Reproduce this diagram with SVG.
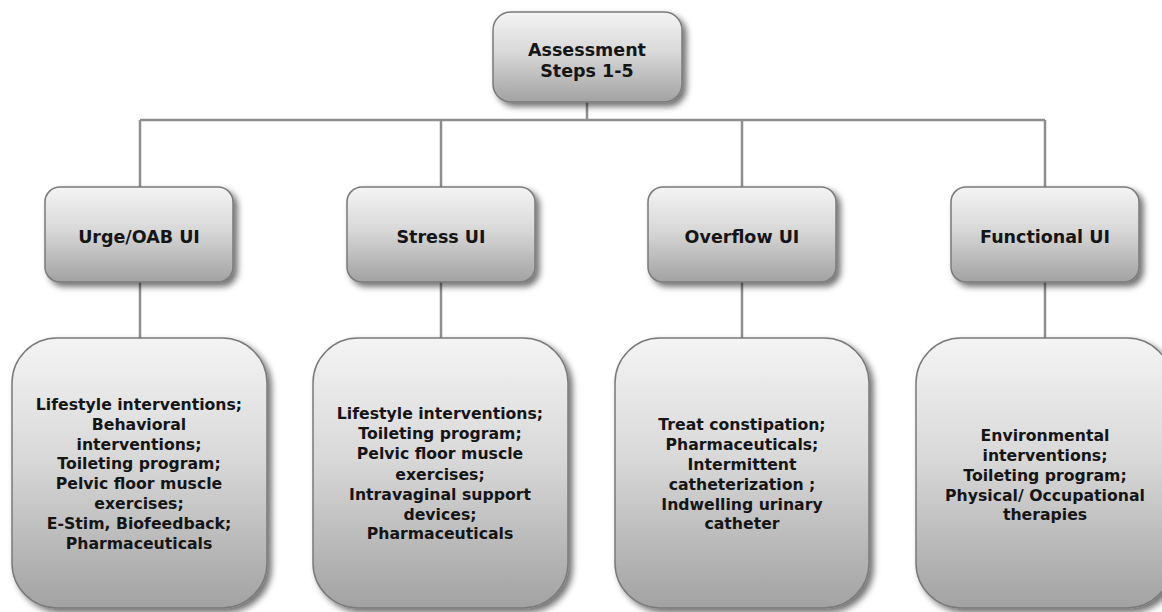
<svg xmlns="http://www.w3.org/2000/svg" width="1162" height="612" viewBox="0 0 1162 612">
<defs>
<linearGradient id="g" x1="0" y1="0" x2="0" y2="1">
<stop offset="0" stop-color="#f4f4f4"/>
<stop offset="0.45" stop-color="#d8d8d8"/>
<stop offset="1" stop-color="#a2a2a2"/>
</linearGradient>
<filter id="sh" x="-10%" y="-10%" width="125%" height="125%">
<feDropShadow dx="4" dy="4" stdDeviation="3" flood-color="#000" flood-opacity="0.55"/>
</filter>
<style>
.box{fill:url(#g);stroke:#7a7a7a;stroke-width:1.5;filter:url(#sh)}
.t{font-family:"DejaVu Sans","Verdana",sans-serif;font-weight:bold;fill:#151515;text-anchor:middle}
.h{font-size:17.5px}
.b{font-size:15.7px}
.c{stroke:#8e8e8e;stroke-width:2.5;fill:none}
</style>
</defs>
<rect width="1162" height="612" fill="#ffffff"/>
<g id="connectors">
<path class="c" d="M587 102V120M140 120H1045M140 120V187M441 120V187M742 120V187M1045 120V187"/>
<path class="c" d="M140 282V338M441 282V338M742 282V338M1045 282V338"/>
</g>
<g id="assessment">
<rect class="box" x="493" y="12" width="189" height="90" rx="18"/>
<text class="t h" x="587" y="56">Assessment</text>
<text class="t h" x="587" y="77">Steps 1-5</text>
</g>
<g id="urge">
<rect class="box" x="45" y="187" width="188" height="95" rx="15"/>
<text class="t h" x="139" y="243">Urge/OAB UI</text>
</g>
<g id="stress">
<rect class="box" x="347" y="187" width="188" height="95" rx="15"/>
<text class="t h" x="441" y="243">Stress UI</text>
</g>
<g id="overflow">
<rect class="box" x="648" y="187" width="188" height="95" rx="15"/>
<text class="t h" x="742" y="243">Overflow UI</text>
</g>
<g id="functional">
<rect class="box" x="951" y="187" width="188" height="95" rx="15"/>
<text class="t h" x="1045" y="243">Functional UI</text>
</g>
<g id="urge-tx">
<rect class="box" x="12" y="338" width="255" height="270" rx="45"/>
<text class="t b" x="139" y="410">Lifestyle interventions;</text>
<text class="t b" x="139" y="430">Behavioral</text>
<text class="t b" x="139" y="450">interventions;</text>
<text class="t b" x="139" y="469">Toileting program;</text>
<text class="t b" x="139" y="489">Pelvic floor muscle</text>
<text class="t b" x="139" y="509">exercises;</text>
<text class="t b" x="139" y="529">E-Stim, Biofeedback;</text>
<text class="t b" x="139" y="549">Pharmaceuticals</text>
</g>
<g id="stress-tx">
<rect class="box" x="313" y="338" width="255" height="270" rx="45"/>
<text class="t b" x="440" y="419">Lifestyle interventions;</text>
<text class="t b" x="440" y="439">Toileting program;</text>
<text class="t b" x="440" y="459">Pelvic floor muscle</text>
<text class="t b" x="440" y="480">exercises;</text>
<text class="t b" x="440" y="500">Intravaginal support</text>
<text class="t b" x="440" y="520">devices;</text>
<text class="t b" x="440" y="539">Pharmaceuticals</text>
</g>
<g id="overflow-tx">
<rect class="box" x="615" y="338" width="254" height="270" rx="45"/>
<text class="t b" x="742" y="430">Treat constipation;</text>
<text class="t b" x="742" y="450">Pharmaceuticals;</text>
<text class="t b" x="742" y="470">Intermittent</text>
<text class="t b" x="742" y="490">catheterization ;</text>
<text class="t b" x="742" y="510">Indwelling urinary</text>
<text class="t b" x="742" y="529">catheter</text>
</g>
<g id="functional-tx">
<rect class="box" x="916" y="338" width="256" height="270" rx="45"/>
<text class="t b" x="1045" y="441">Environmental</text>
<text class="t b" x="1045" y="461">interventions;</text>
<text class="t b" x="1045" y="481">Toileting program;</text>
<text class="t b" x="1045" y="501">Physical/ Occupational</text>
<text class="t b" x="1045" y="520">therapies</text>
</g>
</svg>
